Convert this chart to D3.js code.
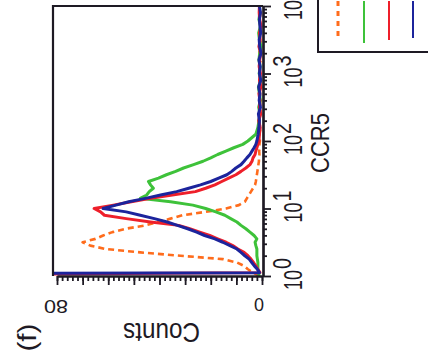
<!DOCTYPE html>
<html><head><meta charset="utf-8">
<script src="https://cdn.jsdelivr.net/npm/d3@7"></script>
<style>html,body{margin:0;padding:0;background:#fff;}svg{display:block;}</style>
</head><body>
<svg id="chart" width="428" height="361"></svg>
<script>
// CCR5 channel positions (log10 exponent of the CCR5 value)
const ccr5Exponent = [0,0.05,0.1,0.15,0.2,0.25,0.3,0.35,0.4,0.45,0.5,0.55,0.6,0.65,0.7,0.75,0.8,0.85,0.9,0.95,
  1.0,1.05,1.1,1.15,1.2,1.25,1.3,1.35,1.4,1.45,1.5,1.55,1.6,1.65,1.7,1.75,1.8,1.85,1.9,1.95,
  2.0,2.1,2.2,2.3,2.4,2.5,2.6,2.7,2.8,2.9,3.0,3.1,3.2,3.3,3.4,3.5,3.6,3.7,3.8,3.9,4.0];
// Counts per channel for each histogram
const countsOrange = [1,3.5,5.5,7,9.8,15.3,31.8,47.5,61,67,70,65,62,58.4,53.3,45.5,40.4,35.7,31,22,
  14,9,6.7,5.9,5.1,4.3,3.5,2.7,2.4,2.2,2,1.8,1.6,1.4,1.2,1.2,1,1.1,0.9,1,
  0.8,1,0.6,1.2,0.8,0.5,1,0.7,1.1,0.6,0.9,1.2,0.5,1,0.8,0.6,1.1,0.7,0.9,0.5,1];
const countsGreen = [1.2,1.2,1.6,1.6,1.6,1.8,2,2,2,2.4,2.7,2,3.1,4.7,6.3,8.2,9.8,12.2,14.5,18,
  22,27,35.7,47.5,45,44,42.4,43.5,44.3,40.4,37.3,33.7,30.6,26.7,23,20,17.3,14.1,11,7.5,
  5.5,2.4,1.6,1.2,0.8,1.3,0.6,1,1.4,0.5,1.1,0.7,1.2,0.9,0.4,1,1.3,0.6,1.2,0.8,1];
const countsRed = [200,0.8,1.6,2.4,3.3,4.3,5.5,7,9.4,11.4,14,17.3,20.4,24.3,28.2,32.5,43.5,53,61.5,63,
  65.5,58,51,43.5,35,26,22,18.4,15.7,13,10.2,8.2,6.3,4.7,3.9,3.5,2.7,2.4,2,1.6,
  1.2,1,0.7,1.3,0.5,1,0.8,1.2,0.4,1,0.6,1.1,0.9,0.5,1.2,0.7,1,0.4,0.9,1.1,1];
const countsBlue = [400,1,1.8,3,4,5,6.7,8.2,9.8,12.5,15.3,18.4,22.4,25.5,29,33,37,42,47.5,53,
  62,57,52,45.5,39.6,33.3,28.6,24,20,16.9,13.7,11.8,10.2,8.2,7,5.9,4.7,3.9,3.1,2.4,
  2,1.5,1.2,1,1.4,0.6,1.1,0.8,1.3,0.5,1,0.7,1.2,0.4,0.9,1.1,0.5,0.8,1,0.6,1];
const seriesNames = ["orange","green","red","blue"];
const seriesColors = ["#ff6c1c","#3ec23a","#ee1f2a","#1c249c"];
const countTickLabels = ["0","80"];
const ccr5TickExponents = [0,1,2,3,4];

const svg = d3.select("#chart");
const FONT = "'Liberation Sans', Arial, Helvetica, sans-serif";
const INK = "#1e1a24";
const plot = {left:53, right:263, top:6, bottom:276};

const y = d3.scaleLog().domain([1,1e4]).range([plot.bottom, plot.top]);
const x = d3.scaleLinear().domain([0,80]).range([262,57]);

svg.append("defs").append("clipPath").attr("id","clip")
  .append("rect").attr("x",plot.left).attr("y",plot.top)
  .attr("width",plot.right-plot.left).attr("height",plot.bottom-plot.top);

// curves
const ccr5 = ccr5Exponent.map(e => Math.pow(10,e));
const allCounts = [countsOrange,countsGreen,countsRed,countsBlue];
const line = d3.line().x(d=>x(d[1])).y(d=>y(d[0]));
const curves = svg.append("g").attr("clip-path","url(#clip)");
allCounts.forEach((cs,i)=>{
  curves.append("path")
    .datum(ccr5.map((v,j)=>[v,cs[j]]))
    .attr("d",line)
    .attr("fill","none")
    .attr("stroke",seriesColors[i])
    .attr("stroke-width", i===0?2.6:3)
    .attr("stroke-dasharray", i===0?"6,4":null)
    .attr("stroke-linejoin","round");
});

// frame (top and left)
svg.append("path")
  .attr("d",`M${plot.left},${plot.bottom}V${plot.top}H${plot.right}`)
  .attr("fill","none").attr("stroke",INK).attr("stroke-width",2.2);

// axes
const minorLog = [];
for (let k=0;k<4;k++) for (let m=2;m<=9;m++) minorLog.push(m*Math.pow(10,k));
const styleAxis = g => {
  g.select(".domain").attr("stroke",INK).attr("stroke-width",2.2);
  g.selectAll(".tick line").attr("stroke",INK).attr("stroke-width",1.8);
  g.selectAll(".tick text").remove();
};
svg.append("g").attr("transform",`translate(${plot.right},0)`)
  .call(d3.axisRight(y).tickValues(minorLog).tickSize(4).tickSizeOuter(0).tickFormat(""))
  .call(styleAxis);
svg.append("g").attr("transform",`translate(${plot.right},0)`)
  .call(d3.axisRight(y).tickValues(ccr5TickExponents.map(e=>Math.pow(10,e))).tickSize(8).tickSizeOuter(0).tickFormat(""))
  .call(styleAxis);
svg.append("g").attr("transform",`translate(0,${plot.bottom})`)
  .call(d3.axisBottom(x).tickValues(d3.range(0,81,2)).tickSize(5).tickSizeOuter(0).tickFormat(""))
  .call(styleAxis);
svg.append("g").attr("transform",`translate(0,${plot.bottom})`)
  .call(d3.axisBottom(x).tickValues(d3.range(0,81,10)).tickSize(9).tickSizeOuter(0).tickFormat(""))
  .call(styleAxis);

// CCR5 tick labels (rotated)
ccr5TickExponents.forEach(e=>{
  const g = svg.append("g").attr("transform",`translate(302,${y(Math.pow(10,e))+14}) rotate(-90)`);
  g.append("text").text("10").attr("x",0).attr("y",0)
    .attr("font-family",FONT).attr("font-size",25).attr("fill",INK)
    .attr("textLength",20).attr("lengthAdjust","spacingAndGlyphs");
  g.append("text").text(String(e)).attr("x",21).attr("y",-11)
    .attr("font-family",FONT).attr("font-size",25).attr("fill",INK)
    .attr("textLength",11).attr("lengthAdjust","spacingAndGlyphs");
});

// count tick labels (upside down)
svg.append("text").text(countTickLabels[0])
  .attr("transform",`translate(${x(0)-3},298) rotate(180)`)
  .attr("text-anchor","middle").attr("font-family",FONT).attr("font-size",18).attr("fill",INK);
svg.append("text").text(countTickLabels[1])
  .attr("transform",`translate(${x(80)-1},300) rotate(180)`)
  .attr("text-anchor","middle").attr("font-family",FONT).attr("font-size",18).attr("fill",INK)
  .attr("textLength",24).attr("lengthAdjust","spacingAndGlyphs");

// axis titles
svg.append("text").text("CCR5")
  .attr("transform","translate(329,143) rotate(-90)")
  .attr("text-anchor","middle").attr("font-family",FONT).attr("font-size",25).attr("fill",INK)
  .attr("textLength",60).attr("lengthAdjust","spacingAndGlyphs");
svg.append("text").text("Counts")
  .attr("transform","translate(161.5,323) rotate(180)")
  .attr("text-anchor","middle").attr("font-family",FONT).attr("font-size",27).attr("fill",INK)
  .attr("textLength",77).attr("lengthAdjust","spacingAndGlyphs");
svg.append("text").text("(f)")
  .attr("transform","translate(36,337.5) rotate(-90)")
  .attr("text-anchor","middle").attr("font-family",FONT).attr("font-size",25).attr("fill",INK)
  .attr("textLength",28).attr("lengthAdjust","spacingAndGlyphs");

// legend (cropped at the edge)
const leg = svg.append("g");
leg.append("path").attr("d","M318,-2V52H432").attr("fill","none").attr("stroke",INK).attr("stroke-width",2);
const legX = [338,364,389,413], legBottom = [40,43,40,38];
seriesNames.forEach((n,i)=>{
  leg.append("line").attr("x1",legX[i]).attr("x2",legX[i]).attr("y1",1).attr("y2",legBottom[i])
    .attr("stroke",seriesColors[i]).attr("stroke-width",i===0?3:2)
    .attr("stroke-dasharray",i===0?"5,5":null);
});
</script>
</body></html>
